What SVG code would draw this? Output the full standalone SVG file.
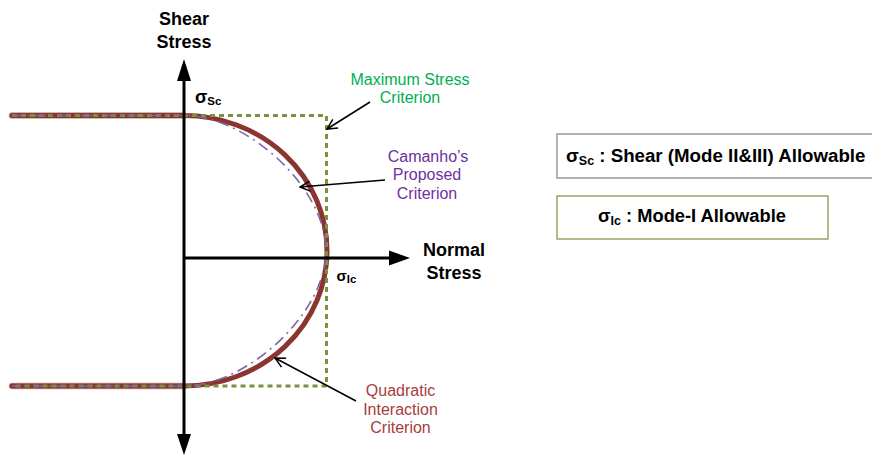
<svg xmlns="http://www.w3.org/2000/svg" width="872" height="455" viewBox="0 0 872 455">
<style>
text{font-family:"Liberation Sans",Arial,sans-serif}
.ax{font-size:18px;font-weight:bold;fill:#000}
.lbl{font-size:16px;text-anchor:middle}
.sig{font-weight:bold;fill:#000}
.axis{stroke:#000;stroke-width:3;fill:none}
.ptr{stroke:#000;stroke-width:1.5;fill:none;marker-end:url(#open)}
</style>
<defs>
<marker id="open" viewBox="0 0 12 12" refX="11" refY="6" markerWidth="12" markerHeight="12" markerUnits="userSpaceOnUse" orient="auto">
<path d="M1,1 L11,6 L1,11" fill="none" stroke="#000" stroke-width="1.5"/>
</marker>
</defs>
<rect width="872" height="455" fill="#fff"/>

<g id="curves">
<path d="M12,115.5 H184 M12,386 H184" fill="none" stroke="#C9A19B" stroke-width="6.5" stroke-linecap="round"/>
<path id="quadratic-curve" d="M12,115.5 H184 A143,135.25 0 0 1 327,250.75 A143,135.25 0 0 1 184,386 H12" fill="none" stroke="#8A3530" stroke-width="5" stroke-linecap="round"/>
<path id="max-stress-box" d="M12,115.5 H326.5 V386 H12" fill="none" stroke="#77933C" stroke-width="3" stroke-dasharray="5 4"/>
<path id="camanho-curve" d="M12,115.5 H184 C247,115.5 326,188 326,250.75 C326,313 247,386 184,386 H12" fill="none" stroke="#8064A2" stroke-width="1.6" stroke-dasharray="11 5 2 5"/>
</g>

<g id="axes">
<line class="axis" x1="184" y1="80" x2="184" y2="435"/>
<polygon points="184,59 177,81 191,81" fill="#000"/>
<polygon points="177,434 191,434 184,455" fill="#000"/>
<line class="axis" x1="184" y1="258" x2="391" y2="258"/>
<polygon points="410,258 389,250.5 389,265.5" fill="#000"/>
</g>

<g id="connectors">
<line class="ptr" x1="370" y1="102" x2="327" y2="129"/>
<line class="ptr" x1="385" y1="180" x2="300" y2="187"/>
<line class="ptr" x1="356" y1="401" x2="275" y2="358"/>
</g>

<g id="shear-stress-label">
<text class="ax" text-anchor="middle"><tspan x="184" y="25">Shear</tspan><tspan x="184" y="48">Stress</tspan></text>
</g>
<g id="normal-stress-label">
<text class="ax" text-anchor="middle"><tspan x="454" y="256">Normal</tspan><tspan x="454" y="279">Stress</tspan></text>
</g>
<g id="sigma-sc">
<text class="sig" x="195" y="103" font-size="18">σ<tspan font-size="11.5" dy="2">Sc</tspan></text>
</g>
<g id="sigma-ic">
<text class="sig" x="336.5" y="281" font-size="15">σ<tspan font-size="11.5" dy="1.5">Ic</tspan></text>
</g>

<g id="max-stress-label">
<text class="lbl" fill="#00B050"><tspan x="410" y="85">Maximum Stress</tspan><tspan x="410" y="103">Criterion</tspan></text>
</g>
<g id="camanho-label">
<text class="lbl" fill="#7030A0"><tspan x="428" y="162">Camanho’s</tspan><tspan x="427" y="180">Proposed</tspan><tspan x="427" y="198.5">Criterion</tspan></text>
</g>
<g id="quadratic-label">
<text class="lbl" fill="#A5403C"><tspan x="400.5" y="396">Quadratic</tspan><tspan x="400.5" y="414.5">Interaction</tspan><tspan x="400.5" y="433">Criterion</tspan></text>
</g>

<g id="legend-shear">
<rect x="557" y="134" width="330" height="44" fill="#fff" stroke="#7F7F7F" stroke-width="1.2"/>
<text class="sig" x="566" y="162" font-size="18.7">σ<tspan font-size="12.5" dy="3">Sc</tspan><tspan dy="-3"> : Shear (Mode II&amp;III) Allowable</tspan></text>
</g>
<g id="legend-mode1">
<rect x="557" y="196" width="271" height="43" fill="#fff" stroke="#77933C" stroke-width="1.2"/>
<text class="sig" x="692" y="222" font-size="18.3" text-anchor="middle">σ<tspan font-size="12.5" dy="3">Ic</tspan><tspan dy="-3"> : Mode-I Allowable</tspan></text>
</g>
</svg>
